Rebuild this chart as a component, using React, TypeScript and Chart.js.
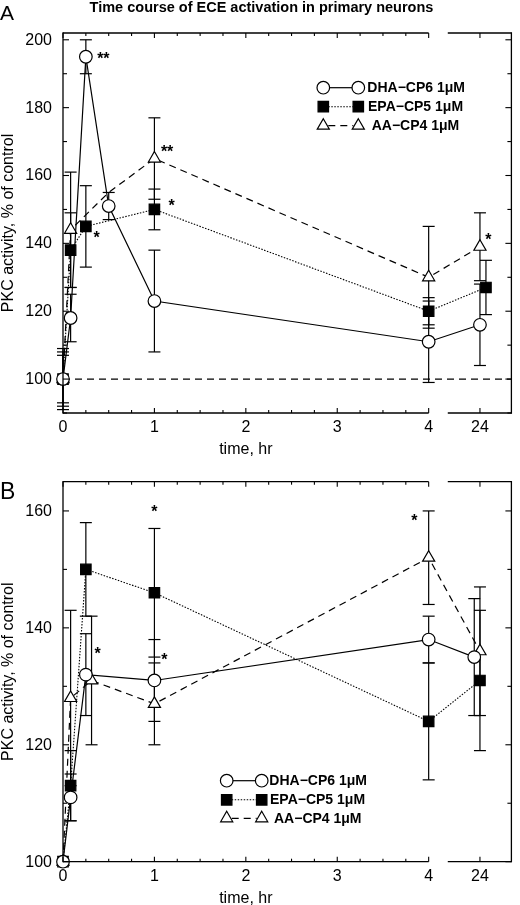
import React, { useEffect, useRef } from "react";
import { Chart, registerables } from "chart.js";

Chart.register(...registerables);

// ---------------- DATA ----------------
const SERIES_LABELS = ["DHA\u2212CP6 1\u03bcM", "EPA\u2212CP5 1\u03bcM", "AA\u2212CP4 1\u03bcM"];
const CHART_TITLE = "Time course of ECE activation in primary neurons";
const X_AXIS_TITLE = "time, hr";
const Y_AXIS_TITLE = "PKC activity, % of control";
const X_TICKS = [0, 1, 2, 3, 4, 24];

// Panel A
const TIMES_A = [0, 5 / 60, 0.25, 0.5, 1, 4, 24];
const DHA_A = [100, 118, 195, 151, 123, 111, 116];
const DHA_A_ERR = [9, 7, 5, 4, 15, 12, 12];
const EPA_A = [100, 138, 145, null, 150, 120, 127];
const EPA_A_ERR = [8, 11, 12, null, 6, 4, 8];
const AA_A = [100, 144, null, 155, 165, 130, 139];
const AA_A_ERR = [7, 17, null, 0, 12, 15, 10];
const Y_TICKS_A = [100, 120, 140, 160, 180, 200];

// Panel B
const TIMES_B = [0, 5 / 60, 0.25, 1, 4, 24];
const DHA_B = [100, 111, 132, 131, 138, 135];
const DHA_B_ERR = [0, 4, 7, 7, 4, 10];
const EPA_B = [100, 113, 150, 146, 124, 131];
const EPA_B_ERR = [0, 6, 8, 11, 10, 12];
const AA_B = [100, 128, 131, 127, 152, 136];
const AA_B_ERR = [0, 15, 11, 7, 8, 11];
const Y_TICKS_B = [100, 120, 140, 160];

// ---------------- STYLE / LAYOUT ----------------
const FONT = '"Liberation Sans", Arial, Helvetica, sans-serif';
const X_BREAK_START = 4;
const X_BREAK_END = 4.209;
const X_POS_24 = 4.561;
const X_MAX = 4.905;
const axisPos = (t: number) => (t > X_BREAK_START ? X_POS_24 : t);

const SERIES_STYLE = [
  { pointStyle: "circle", radius: 6.3, fill: "#ffffff", width: 1.2, dash: [] as number[] },
  { pointStyle: "rect", radius: 7.4, fill: "#000000", width: 1.1, dash: [1.5, 1.5] },
  { pointStyle: "triangle", radius: 7, fill: "#ffffff", width: 1.2, dash: [7, 5] },
];

type Ann = { ds: number; idx: number; text: string; anchor: "point" | "top"; dx: number; dy: number };

interface PanelCfg {
  letter: string;
  letterSize: number;
  letterBaseline: number;
  title?: string;
  height: number;
  padTop: number;
  padBottom: number;
  times: number[];
  values: (number | null)[][];
  errors: (number | null)[][];
  yMin: number;
  yMax: number;
  yTicks: number[];
  baseline?: number;
  hidden: number[][];
  dodge: { ds: number; idx: number; px: number }[];
  legend: { x1: number; x2: number; textX: number; rows: number[]; extra: number[] };
  annotations: Ann[];
}

const PANEL_A: PanelCfg = {
  letter: "A",
  letterSize: 21,
  letterBaseline: 19.5,
  title: CHART_TITLE,
  height: 460,
  padTop: 33,
  padBottom: 47,
  times: TIMES_A,
  values: [DHA_A, EPA_A, AA_A],
  errors: [DHA_A_ERR, EPA_A_ERR, AA_A_ERR],
  yMin: 90,
  yMax: 202,
  yTicks: Y_TICKS_A,
  baseline: 100,
  hidden: [[], [], [3]],
  dodge: [{ ds: 1, idx: 6, px: 6 }],
  legend: { x1: 323.3, x2: 358.3, textX: 367.3, rows: [87.7, 106.7, 125.7], extra: [0, 0.7, 4.4] },
  annotations: [
    { ds: 0, idx: 2, text: "**", anchor: "point", dx: 17.5, dy: -1 },
    { ds: 1, idx: 2, text: "*", anchor: "point", dx: 10.7, dy: 8.3 },
    { ds: 2, idx: 4, text: "**", anchor: "point", dx: 12.7, dy: -10 },
    { ds: 1, idx: 4, text: "*", anchor: "point", dx: 17.3, dy: -6.6 },
    { ds: 2, idx: 6, text: "*", anchor: "point", dx: 8.3, dy: -10 },
  ],
};

const PANEL_B: PanelCfg = {
  letter: "B",
  letterSize: 23,
  letterBaseline: 39.3,
  height: 445,
  padTop: 21.7,
  padBottom: 43.3,
  times: TIMES_B,
  values: [DHA_B, EPA_B, AA_B],
  errors: [DHA_B_ERR, EPA_B_ERR, AA_B_ERR],
  yMin: 100,
  yMax: 165,
  yTicks: Y_TICKS_B,
  hidden: [[], [], []],
  dodge: [
    { ds: 0, idx: 5, px: -5.7 },
    { ds: 2, idx: 2, px: 5.7 },
  ],
  legend: { x1: 226.7, x2: 261.7, textX: 269.3, rows: [320.7, 339.8, 358.3], extra: [0, 0.7, 4.7] },
  annotations: [
    { ds: 1, idx: 3, text: "*", anchor: "top", dx: 0, dy: -19.6 },
    { ds: 0, idx: 2, text: "*", anchor: "point", dx: 11.7, dy: -23.3 },
    { ds: 0, idx: 3, text: "*", anchor: "point", dx: 10, dy: -24 },
    { ds: 2, idx: 4, text: "*", anchor: "top", dx: -14.3, dy: 7 },
  ],
};

// ---------------- DRAWING HELPERS ----------------
function drawMarker(ctx: CanvasRenderingContext2D, style: string, x: number, y: number, r: number, fill: string) {
  ctx.save();
  ctx.setLineDash([]);
  ctx.beginPath();
  if (style === "circle") {
    ctx.arc(x, y, r, 0, Math.PI * 2);
  } else if (style === "rect") {
    const s = r * Math.SQRT1_2;
    ctx.rect(x - s, y - s, 2 * s, 2 * s);
  } else {
    ctx.moveTo(x, y - r);
    ctx.lineTo(x + r * Math.sin((2 * Math.PI) / 3), y + r * 0.5);
    ctx.lineTo(x - r * Math.sin((2 * Math.PI) / 3), y + r * 0.5);
    ctx.closePath();
  }
  ctx.fillStyle = fill;
  ctx.fill();
  ctx.lineWidth = 1.2;
  ctx.strokeStyle = "#000";
  ctx.stroke();
  ctx.restore();
}

function line(ctx: CanvasRenderingContext2D, x1: number, y1: number, x2: number, y2: number) {
  ctx.beginPath();
  ctx.moveTo(x1, y1);
  ctx.lineTo(x2, y2);
  ctx.stroke();
}

function makePlugin(cfg: PanelCfg) {
  return {
    id: "panelDecor" + cfg.letter,
    afterDatasetsUpdate(chart: any) {
      cfg.dodge.forEach((d) => {
        const el = chart.getDatasetMeta(d.ds).data[d.idx];
        if (el) el.x += d.px;
      });
    },
    beforeDatasetsDraw(chart: any) {
      const ctx: CanvasRenderingContext2D = chart.ctx;
      const { left, right } = chart.chartArea;
      const ys = chart.scales.y;
      ctx.save();
      ctx.strokeStyle = "#000";
      if (cfg.baseline !== undefined) {
        ctx.lineWidth = 1.3;
        ctx.setLineDash([7, 5]);
        const yb = ys.getPixelForValue(cfg.baseline);
        line(ctx, left, yb, right, yb);
        ctx.setLineDash([]);
      }
      // error bars
      ctx.lineWidth = 1.2;
      cfg.values.forEach((vals, di) => {
        const meta = chart.getDatasetMeta(di);
        vals.forEach((v, i) => {
          const e = cfg.errors[di][i];
          if (v === null || e === null || !e) return;
          const el = meta.data[i];
          const yt = ys.getPixelForValue(v + e);
          const yb = ys.getPixelForValue(v - e);
          line(ctx, el.x, yt, el.x, yb);
          line(ctx, el.x - 6, yt, el.x + 6, yt);
          line(ctx, el.x - 6, yb, el.x + 6, yb);
        });
      });
      ctx.restore();
    },
    afterDatasetsDraw(chart: any) {
      const ctx: CanvasRenderingContext2D = chart.ctx;
      const { left, right, top, bottom } = chart.chartArea;
      const xs = chart.scales.x;
      const ys = chart.scales.y;
      const xb1 = xs.getPixelForValue(X_BREAK_START);
      const xb2 = xs.getPixelForValue(X_BREAK_END);
      ctx.save();
      ctx.strokeStyle = "#000";
      ctx.fillStyle = "#000";
      ctx.lineWidth = 1.3;
      ctx.setLineDash([]);
      // frame with broken x axis
      line(ctx, left, top - 0.65, left, bottom + 0.65);
      line(ctx, right, top - 0.65, right, bottom + 0.65);
      line(ctx, left, top, xb1, top);
      line(ctx, xb2, top, right, top);
      line(ctx, left, bottom, xb1, bottom);
      line(ctx, xb2, bottom, right, bottom);
      // x ticks
      ctx.lineWidth = 1.1;
      for (let k = 0; k <= 16; k++) {
        const t = k * 0.25;
        const px = xs.getPixelForValue(t);
        const len = k % 4 === 0 ? 5 : 3;
        line(ctx, px, bottom, px, bottom - len);
        line(ctx, px, top, px, top + len);
      }
      const p24 = xs.getPixelForValue(axisPos(24));
      line(ctx, p24, bottom, p24, bottom - 5);
      line(ctx, p24, top, p24, top + 5);
      // y ticks
      for (let v = cfg.yMin; v <= cfg.yMax; v += 10) {
        const py = ys.getPixelForValue(v);
        const major = cfg.yTicks.includes(v);
        const len = major ? 6 : 4;
        line(ctx, left, py, left + len, py);
        line(ctx, right, py, right - len, py);
      }
      // tick labels
      ctx.font = `16px ${FONT}`;
      ctx.textAlign = "right";
      ctx.textBaseline = "middle";
      cfg.yTicks.forEach((v) => ctx.fillText(String(v), left - 11, ys.getPixelForValue(v) + 0.5));
      ctx.textAlign = "center";
      ctx.textBaseline = "alphabetic";
      X_TICKS.forEach((t) => ctx.fillText(String(t), xs.getPixelForValue(axisPos(t)), bottom + 19));
      // axis titles
      ctx.font = `16px ${FONT}`;
      ctx.fillText(X_AXIS_TITLE, (left + xb1) / 2, bottom + 41);
      ctx.save();
      ctx.translate(13.3, (top + bottom) / 2);
      ctx.rotate(-Math.PI / 2);
      ctx.textAlign = "center";
      ctx.fillText(Y_AXIS_TITLE, 0, 0);
      ctx.restore();
      // panel letter
      ctx.textAlign = "left";
      ctx.font = `${cfg.letterSize}px ${FONT}`;
      ctx.fillText(cfg.letter, 0, cfg.letterBaseline);
      // title
      if (cfg.title) {
        ctx.textAlign = "center";
        ctx.font = `bold 14.5px ${FONT}`;
        ctx.fillText(cfg.title, 261.5, 12);
      }
      // annotations
      ctx.font = `bold 16px ${FONT}`;
      ctx.textAlign = "center";
      cfg.annotations.forEach((a) => {
        const el = chart.getDatasetMeta(a.ds).data[a.idx];
        const v = cfg.values[a.ds][a.idx] as number;
        const e = (cfg.errors[a.ds][a.idx] as number) || 0;
        const baseY = a.anchor === "top" ? ys.getPixelForValue(v + e) : el.y;
        const cy = baseY + a.dy;
        ctx.fillText(a.text, el.x + a.dx, cy + 0.57 * 16 - 1);
      });
      // legend
      const lg = cfg.legend;
      SERIES_LABELS.forEach((label, i) => {
        const st = SERIES_STYLE[i];
        const y = lg.rows[i];
        ctx.save();
        ctx.lineWidth = st.width;
        ctx.setLineDash(st.dash);
        line(ctx, lg.x1 + 5, y, lg.x2 - 5, y);
        ctx.restore();
        drawMarker(ctx, st.pointStyle, lg.x1, y, st.radius, st.fill);
        drawMarker(ctx, st.pointStyle, lg.x2, y, st.radius, st.fill);
        ctx.font = `bold 14px ${FONT}`;
        ctx.textAlign = "left";
        ctx.textBaseline = "middle";
        ctx.fillStyle = "#000";
        ctx.fillText(label, lg.textX + lg.extra[i], y + 0.5);
      });
      ctx.restore();
    },
  };
}

function buildChart(canvas: HTMLCanvasElement, cfg: PanelCfg) {
  const datasets = cfg.values.map((vals, di) => {
    const st = SERIES_STYLE[di];
    return {
      label: SERIES_LABELS[di],
      data: cfg.times.map((t, i) => ({ x: axisPos(t), y: vals[i] })),
      borderColor: "#000",
      borderWidth: st.width,
      borderDash: st.dash,
      backgroundColor: st.fill,
      fill: false,
      tension: 0,
      spanGaps: true,
      clip: false,
      pointStyle: st.pointStyle,
      pointRadius: cfg.times.map((_, i) => (cfg.hidden[di].includes(i) ? 0 : st.radius)),
      pointBackgroundColor: st.fill,
      pointBorderColor: "#000",
      pointBorderWidth: 1.2,
    };
  });
  return new Chart(canvas, {
    type: "line",
    data: { datasets } as any,
    options: {
      responsive: false,
      animation: false,
      events: [],
      layout: { padding: { left: 63, right: 1.3, top: cfg.padTop, bottom: cfg.padBottom } },
      scales: {
        x: { type: "linear", min: 0, max: X_MAX, display: false },
        y: { type: "linear", min: cfg.yMin, max: cfg.yMax, display: false },
      },
      plugins: { legend: { display: false }, tooltip: { enabled: false }, title: { display: false } },
    } as any,
    plugins: [makePlugin(cfg)],
  });
}

function Panel({ cfg, top }: { cfg: PanelCfg; top: number }) {
  const ref = useRef<HTMLCanvasElement>(null);
  useEffect(() => {
    if (!ref.current) return;
    const chart = buildChart(ref.current, cfg);
    return () => chart.destroy();
  }, [cfg]);
  return (
    <canvas
      ref={ref}
      width={520}
      height={cfg.height}
      style={{ position: "absolute", left: 0, top, width: 520, height: cfg.height, display: "block" }}
    />
  );
}

export default function App() {
  return (
    <div style={{ position: "absolute", left: 0, top: 0, width: 520, height: 905, background: "#fff", overflow: "hidden" }}>
      <Panel cfg={PANEL_A} top={0} />
      <Panel cfg={PANEL_B} top={460} />
    </div>
  );
}
